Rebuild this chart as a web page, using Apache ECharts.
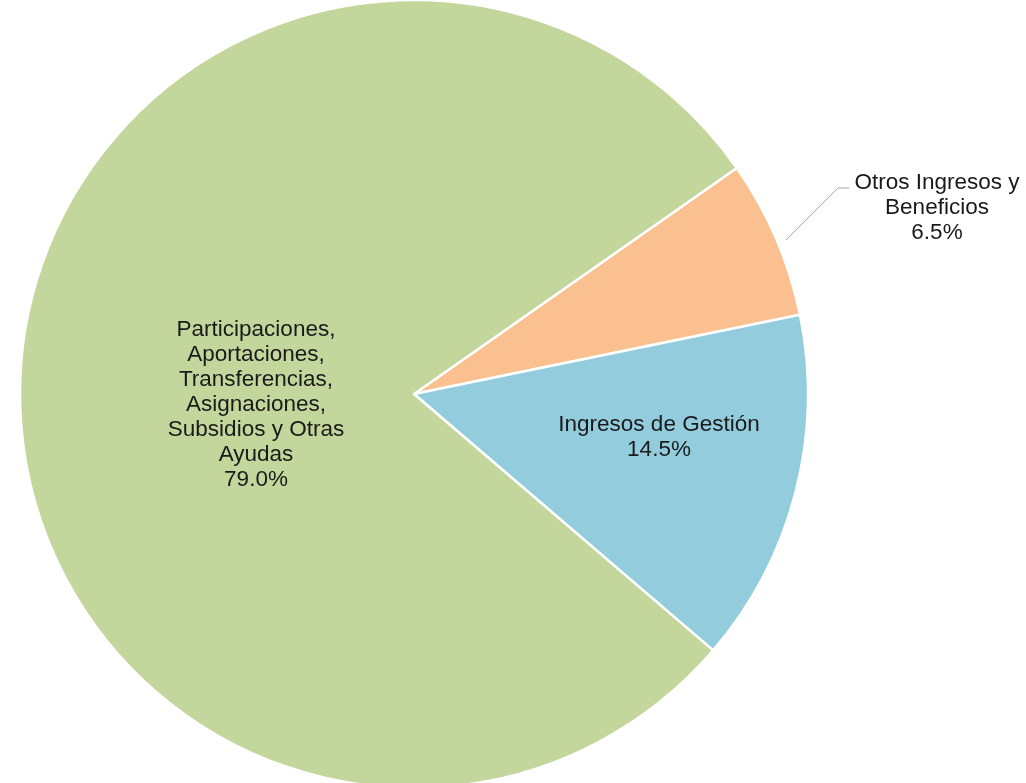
<!DOCTYPE html>
<html>
<head>
<meta charset="utf-8">
<script src="https://cdn.jsdelivr.net/npm/echarts@6/dist/echarts.min.js"></script>
<style>
html,body{margin:0;padding:0;background:#fff;}
#chart{width:1026px;height:783px;}
</style>
</head>
<body>
<div id="chart"></div>
<script>
// Data
const categories = [
  "Otros Ingresos y\nBeneficios",
  "Ingresos de Gestión",
  "Participaciones,\nAportaciones,\nTransferencias,\nAsignaciones,\nSubsidios y Otras\nAyudas"
];
const values = [6.5, 14.5, 79.0];
const colors = ["#FAC090", "#93CDDD", "#C3D69B"];

// Label placement (layout, not data)
const labelPos = [
  {x: 937, y: 208, line: [[786, 240], [838, 188], [849, 188]]},
  {x: 659, y: 437},
  {x: 256, y: 405}
];

const chart = echarts.init(document.getElementById('chart'), null, {renderer: 'canvas'});
chart.setOption({
  animation: false,
  backgroundColor: '#ffffff',
  series: [{
    type: 'pie',
    center: [414, 394],
    radius: 394,
    startAngle: 35,
    clockwise: true,
    avoidLabelOverlap: false,
    itemStyle: {borderColor: '#ffffff', borderWidth: 2.5},
    label: {
      color: '#1a1a1a',
      fontFamily: 'Liberation Sans, Arial, sans-serif',
      fontSize: 22.5,
      lineHeight: 25,
      align: 'center',
      formatter: p => p.name + '\n' + p.value.toFixed(1) + '%'
    },
    labelLine: {lineStyle: {color: '#a6a6a6', width: 1}},
    labelLayout: function (params) {
      const lp = labelPos[params.dataIndex];
      const out = {x: lp.x, y: lp.y, align: 'center', verticalAlign: 'middle'};
      if (lp.line) out.labelLinePoints = lp.line;
      return out;
    },
    data: categories.map((name, i) => ({
      name: name,
      value: values[i],
      itemStyle: {color: colors[i]},
      label: {position: i === 0 ? 'outside' : 'inside'},
      labelLine: {show: i === 0}
    }))
  }]
});
</script>
</body>
</html>
